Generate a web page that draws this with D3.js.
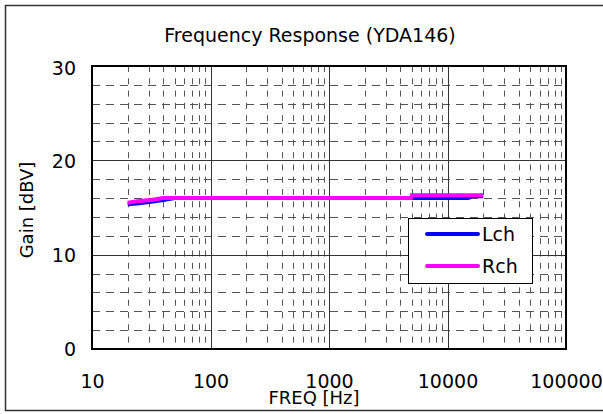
<!DOCTYPE html>
<html><head><meta charset="utf-8">
<script src="https://cdn.jsdelivr.net/npm/d3@7/dist/d3.min.js"></script>
<style>body{margin:0;background:#fff}svg{display:block}text{font-family:"DejaVu Sans",sans-serif;fill:#000}</style>
</head><body>
<svg id="c" width="603" height="414"></svg>
<script>
const title = "Frequency Response (YDA146)";
const xTicks = [10, 100, 1000, 10000, 100000];
const yTicks = [0, 10, 20, 30];
const lchFreq = [20, 25, 31.5, 40, 50, 63, 100, 1000, 5000, 10000, 15000, 16000, 20000];
const lchGain = [15.35, 15.45, 15.6, 15.8, 16.0, 16.0, 16.0, 16.0, 16.0, 16.0, 16.0, 16.2, 16.2];
const rchFreq = [20, 25, 31.5, 40, 50, 100, 1000, 4900, 5000, 10000, 20000];
const rchGain = [15.5, 15.7, 15.8, 16.0, 16.0, 16.0, 16.0, 16.0, 16.3, 16.3, 16.3];
const seriesNames = ["Lch", "Rch"];
const seriesColors = ["#0000ff", "#ff00ff"];

const FONT = '"DejaVu Sans",sans-serif';
const svg = d3.select("#c");
svg.append("rect").attr("x",5.5).attr("y",5.5).attr("width",605).attr("height",405)
  .attr("fill","#fff").attr("stroke","#333").attr("stroke-width",1.5);

const L=92, R=566, T=66, B=349;
const x = d3.scaleLog().domain([10,100000]).range([L,R]);
const y = d3.scaleLinear().domain([0,30]).range([B,T]);
const g = svg.append("g");

// minor horizontal dashed
for (let v=2; v<30; v+=2) {
  if (v%10===0) continue;
  g.append("line").attr("x1",L).attr("x2",R).attr("y1",Math.round(y(v))+0.5).attr("y2",Math.round(y(v))+0.5)
   .attr("stroke","#555").attr("stroke-width",1).attr("stroke-dasharray","8,6");
}
// minor vertical dashed
for (let d=10; d<100000; d*=10) {
  for (let m=2; m<10; m++) {
    const xv = Math.round(x(d*m))+0.5;
    g.append("line").attr("x1",xv).attr("x2",xv).attr("y1",T).attr("y2",B)
     .attr("stroke","#555").attr("stroke-width",1).attr("stroke-dasharray","6,6.3");
  }
}
// major grid
[10,20].forEach(v=>g.append("line").attr("x1",L).attr("x2",R).attr("y1",Math.round(y(v))+0.5).attr("y2",Math.round(y(v))+0.5).attr("stroke","#333").attr("stroke-width",1));
[100,1000,10000].forEach(v=>g.append("line").attr("x1",Math.round(x(v))+0.5).attr("x2",Math.round(x(v))+0.5).attr("y1",T).attr("y2",B).attr("stroke","#333").attr("stroke-width",1));

// data
const line = d3.line().x(d=>x(d[0])).y(d=>y(d[1]));
const lch = lchFreq.map((f,i)=>[f,lchGain[i]]);
const rch = rchFreq.map((f,i)=>[f,rchGain[i]]);
g.append("path").attr("d",line(lch)).attr("fill","none").attr("stroke",seriesColors[0]).attr("stroke-width",4);
g.append("path").attr("d",line(rch)).attr("fill","none").attr("stroke",seriesColors[1]).attr("stroke-width",4);

// plot border
g.append("rect").attr("x",L).attr("y",T).attr("width",R-L).attr("height",B-T)
 .attr("fill","none").attr("stroke","#000").attr("stroke-width",2);

// axes labels
const xAxis = d3.axisBottom(x).tickValues(xTicks).tickFormat(d3.format("d")).tickSize(0).tickPadding(0);
const xa = svg.append("g").attr("transform",`translate(0,${B})`).call(xAxis);
xa.select(".domain").remove();
xa.selectAll("text").attr("dy",null).attr("y",39).attr("font-size",19).style("font-family",FONT);
const yAxis = d3.axisLeft(y).tickValues(yTicks).tickSize(0).tickPadding(0);
const ya = svg.append("g").attr("transform",`translate(76,0)`).call(yAxis);
ya.select(".domain").remove();
ya.selectAll("text").attr("dy","0.36em").attr("font-size",19).style("font-family",FONT);
ya.selectAll(".tick").filter(d=>d===30).attr("transform",`translate(0,${y(30)+2})`);

svg.append("text").attr("x",310).attr("y",42).attr("text-anchor","middle").attr("font-size",19).text(title);
svg.append("text").attr("x",314).attr("y",404).attr("text-anchor","middle").attr("font-size",18).text("FREQ [Hz]");
svg.append("text").attr("transform","translate(33,210) rotate(-90)").attr("text-anchor","middle").attr("font-size",18).text("Gain [dBV]");

// legend
const lg = svg.append("g");
lg.append("rect").attr("x",408.5).attr("y",218.5).attr("width",124).attr("height",65).attr("fill","#fff").attr("stroke","#000").attr("stroke-width",1);
seriesNames.forEach((n,i)=>{
  const yy = 234 + i*32;
  lg.append("line").attr("x1",427).attr("x2",478).attr("y1",yy).attr("y2",yy).attr("stroke",seriesColors[i]).attr("stroke-width",4).attr("stroke-linecap","round");
  lg.append("text").attr("x",482).attr("y",yy+7).attr("font-size",19).text(n);
});
</script>
</body></html>
